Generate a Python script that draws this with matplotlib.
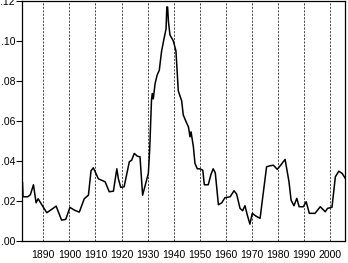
import numpy as np
import matplotlib
matplotlib.use("Agg")
from matplotlib import pyplot as plt
from matplotlib.ticker import FuncFormatter

# series (year, value)
years = [1882.0, 1882.2, 1884.0, 1885.0, 1886.2, 1887.2, 1888.0, 1889.4, 1891.3, 1893.2,
         1894.9, 1897.0, 1898.6, 1900.2, 1901.9, 1903.8, 1905.7, 1907.3, 1908.3, 1909.2,
         1911.1, 1913.7, 1915.3, 1916.9, 1918.2, 1918.8, 1919.7, 1921.0, 1923.0, 1923.9,
         1924.9, 1926.1, 1927.1, 1928.1, 1929.3, 1930.3, 1930.8, 1931.5, 1931.8, 1932.2,
         1932.9, 1933.7, 1934.5, 1935.4, 1936.3, 1937.1, 1937.4, 1937.7, 1938.0, 1938.6,
         1939.9, 1940.9, 1941.8, 1943.1, 1943.7, 1944.8, 1945.7, 1946.3, 1946.7, 1947.6,
         1948.2, 1949.1, 1950.1, 1951.2, 1951.8, 1953.3, 1954.3, 1955.2, 1956.0, 1957.2,
         1958.5, 1959.7, 1961.7, 1963.2, 1964.2, 1965.5, 1966.5, 1967.4, 1968.3, 1969.3,
         1970.2, 1971.6, 1973.2, 1974.4, 1975.7, 1977.0, 1978.3, 1979.8, 1981.1, 1982.8,
         1984.3, 1985.1, 1986.2, 1987.3, 1988.2, 1989.8, 1990.9, 1992.1, 1994.3, 1996.3,
         1998.2, 1999.1, 2000.8, 2002.1, 2003.4, 2004.7, 2006.0]
values = [0.029, 0.022, 0.022, 0.023, 0.028, 0.019, 0.021, 0.018, 0.014, 0.0157,
          0.0173, 0.0103, 0.0107, 0.0167, 0.0153, 0.0143, 0.021, 0.0228, 0.035, 0.0365,
          0.031, 0.0295, 0.0245, 0.0248, 0.036, 0.031, 0.0267, 0.027, 0.0395, 0.0403,
          0.0437, 0.0423, 0.042, 0.0228, 0.0287, 0.0337, 0.045, 0.070, 0.0737, 0.071,
          0.0787, 0.083, 0.0853, 0.095, 0.101, 0.106, 0.117, 0.117, 0.110, 0.103,
          0.100, 0.095, 0.075, 0.070, 0.063, 0.0595, 0.057, 0.052, 0.0545, 0.047,
          0.0387, 0.036, 0.036, 0.0353, 0.028, 0.028, 0.033, 0.036, 0.034, 0.018,
          0.019, 0.0215, 0.022, 0.025, 0.0233, 0.0162, 0.015, 0.0175, 0.0128, 0.0083,
          0.0137, 0.0123, 0.0112, 0.0237, 0.037, 0.0375, 0.0378, 0.0357, 0.0378, 0.0407,
          0.0295, 0.0203, 0.0175, 0.0212, 0.017, 0.017, 0.0195, 0.0137, 0.0137, 0.017,
          0.0145, 0.0162, 0.0167, 0.032, 0.0348, 0.0337, 0.031]

decades = [1890, 1900, 1910, 1920, 1930, 1940, 1950, 1960, 1970, 1980, 1990, 2000]
yticks = [0.00, 0.02, 0.04, 0.06, 0.08, 0.10, 0.12]

plt.rcParams["font.family"] = ["Liberation Sans", "DejaVu Sans"]

fig = plt.figure(figsize=(3.48, 2.63), dpi=100)
ax = fig.add_axes([22 / 348, 1 - 240.7 / 263, 323 / 348, 239.7 / 263])

ax.plot(years, values, color="black", linewidth=1.1)

for d in decades:
    ax.axvline(d, color="black", linestyle=(0, (3, 2)), linewidth=0.5)

ax.set_xlim(1881.8, 2005.8)
ax.set_ylim(0, 0.12)
ax.set_xticks(decades)
ax.set_yticks(yticks)
ax.yaxis.set_major_formatter(FuncFormatter(lambda v, p: f"{v:.2f}".lstrip("0")))

ax.tick_params(axis="x", length=0, pad=7, labelsize=7.5)
ax.tick_params(axis="y", length=4, width=0.8, pad=1, labelsize=7.5, direction="out")
for s in ax.spines.values():
    s.set_linewidth(0.9)

fig.savefig("out.png", dpi=100)
